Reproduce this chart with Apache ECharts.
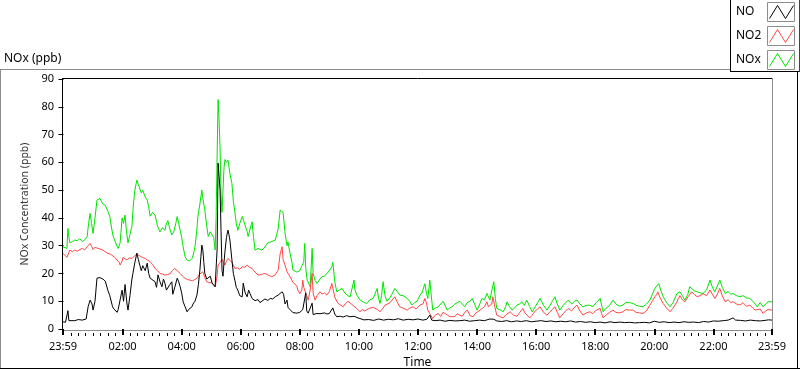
<!DOCTYPE html>
<html>
<head>
<meta charset="utf-8">
<script src="https://cdn.jsdelivr.net/npm/echarts@6/dist/echarts.min.js"></script>
<style>
html,body{margin:0;padding:0;background:#fff;}
#chart{width:800px;height:369px;}
</style>
</head>
<body>
<div id="chart"></div>
<script>
// x values are minutes after midnight; -1 is 23:59 of the previous day
const tickValues = [-1, 120, 240, 360, 480, 600, 720, 840, 960, 1080, 1200, 1320, 1439];
const tickLabels = ['23:59', '02:00', '04:00', '06:00', '08:00', '10:00', '12:00', '14:00', '16:00', '18:00', '20:00', '22:00', '23:59'];
const seriesNames = ['NO', 'NO2', 'NOx'];

const noTimes = [-1,4,7,9,11,13,23,30,38,46,50,54,58,60,64,68,74,80,85,88,90,94,99,101,105,109,111,115,119,122,125,129,131,135,139,141,145,149,152,155,158,161,166,170,173,176,180,186,189,192,196,200,203,206,209,212,216,220,222,226,231,234,237,240,243,247,251,254,257,261,263,267,271,274,277,279,281,283,285,287,291,294,298,302,305,308,310,312,314,316,318,320,322,324,326,328,331,334,336,338,342,345,348,351,354,358,363,365,369,373,376,379,383,389,395,399,403,409,415,420,425,430,436,440,444,447,450,454,456,460,464,466,470,474,476,480,484,486,492,494,497,501,505,507,511,515,521,525,530,535,540,547,551,555,562,568,575,582,590,592,598,602,610,620,630,640,650,660,670,680,690,700,710,720,730,738,744,748,755,765,775,785,795,805,815,825,835,845,855,866,870,874,880,890,900,910,920,930,940,950,960,970,980,990,1000,1010,1020,1030,1040,1050,1060,1070,1080,1090,1100,1110,1120,1130,1140,1150,1160,1170,1180,1190,1200,1210,1220,1230,1240,1250,1260,1270,1280,1290,1300,1310,1320,1330,1340,1350,1360,1365,1375,1385,1395,1405,1415,1425,1432,1436,1439];
const noValues = [2.6,2.4,2.8,6.6,3,3.2,3.0,3.4,3.2,3.6,8,10.4,9,6.8,10,18.3,18.5,18,17.2,16.5,14,12,8.5,7.5,6.8,6,7,6.5,14,10,16,9,6.8,12,18,20,24,27.3,25,24.8,21,22.8,21,23.7,20,18.3,19,17,15,19.5,17,15.2,18,16.5,14,14,16,17,12.5,15,18.3,17,15.2,13,9.8,8,6.2,7,6.8,8,9,10,12.2,16,21.2,26,30.2,28.5,24,20,18,17.6,19,16.5,17,15.2,22,28.5,59.7,55,50,35,21,19,24,28,33,35.6,34,32,25,20,17.6,15,14,12,11.6,16.5,13,11.6,14,12.7,11,10.2,10.6,9.5,9.8,10.8,10.3,11,10.8,11.6,12.2,12.8,13.4,12.5,9,10.4,7.8,7,6.8,5.9,5.4,5.7,5.8,6,6.6,7,13,6.5,5.7,6,9.3,5.2,5.4,5.6,5.5,5.2,5.8,5.4,5.6,7.6,5.4,4.4,4.6,4.3,4.8,4.4,4.6,5,4.0,3.5,3.3,3.4,3.1,3.6,3.2,3.5,3.3,3.7,3.2,3.5,3.3,3.6,3.2,3.5,5,3.2,3.0,3.2,2.8,3.1,2.9,3.0,3.2,2.8,3.0,3.2,3.0,3.6,4.2,3.5,2.9,2.7,3.0,2.6,2.9,2.7,3.0,2.6,2.8,3.0,2.7,2.9,2.6,2.8,2.6,2.9,2.5,2.7,2.4,2.6,2.3,2.5,2.2,2.6,2.3,2.5,2.3,2.4,2.2,2.3,2.4,2.2,2.8,2.4,2.6,2.3,2.5,2.3,2.6,2.4,2.5,2.3,2.7,2.5,2.9,2.8,3.0,3.2,4.0,3.2,3.1,2.9,3.2,3.0,2.9,3.1,3.3,3.6,3.2];

const no2Times = [-1,3,7,10,13,18,23,28,33,38,43,48,51,54,57,60,64,68,74,80,85,90,95,99,104,109,113,115,119,121,125,129,134,139,144,149,152,155,160,166,171,176,181,186,191,196,201,206,211,216,221,226,231,237,242,247,252,257,262,267,272,277,283,287,291,296,302,305,308,310,312,314,318,322,325,328,331,334,338,342,345,348,353,358,363,368,373,378,383,389,395,402,409,415,423,430,436,440,444,446,450,454,458,462,466,470,474,476,480,484,486,488,490,494,497,501,505,507,511,515,521,525,530,535,540,545,548,551,555,558,562,568,572,578,582,588,592,597,602,607,612,616,622,629,633,638,643,649,653,658,663,667,673,677,683,690,698,703,710,716,724,730,734,737,740,744,750,755,761,766,771,775,780,785,789,795,800,805,810,815,820,826,832,836,840,846,850,855,860,863,866,870,872,876,880,886,893,898,901,907,914,921,927,933,937,941,947,952,958,963,968,975,982,988,993,998,1003,1008,1015,1020,1025,1032,1038,1043,1049,1055,1062,1069,1075,1082,1090,1093,1096,1102,1109,1116,1122,1129,1136,1142,1150,1157,1163,1170,1177,1184,1191,1196,1201,1205,1207,1211,1218,1225,1232,1238,1246,1249,1252,1257,1262,1268,1276,1281,1287,1293,1299,1306,1313,1318,1323,1328,1333,1338,1344,1350,1355,1360,1367,1374,1380,1387,1394,1400,1405,1409,1415,1421,1426,1431,1435,1439];
const no2Values = [27.2,27.5,25.8,26.5,28.4,27.8,28.4,28,28.6,29,28.5,29.6,30,30.8,29.8,28.6,29.4,29,28.8,28.4,27.8,27.2,27,26.6,25.8,24.8,24,23,24.5,25.8,25.2,24.8,25.6,25.4,26.2,27,26.5,26.3,25.8,25.4,24.8,24.2,23.2,21.8,21,20,19.8,19.4,19.6,19.8,21,21.8,21,20,19,18.2,17.8,17.6,17.4,17.8,18.5,19.8,20.6,18.5,17,16.8,16.5,16,15.2,17,19,23,24,25,24,23,24.5,25.4,24.8,24,23,21.8,22,21.5,22.4,22.2,23,22.2,21.8,20.5,19.4,19.6,20,19.5,18.8,19.5,21.2,27,29.6,25,23,20.6,19.5,18.8,16.8,16.5,15.5,14,12.7,14,17.6,15,14,12,10.4,14,20,13,10.4,12,13.4,12.6,13,12.2,13.5,16.4,14,11.5,10,9.2,8.5,8,9,10,9.5,8.5,8,7.2,6.2,7,6.5,6.8,7.5,7.8,8,7,6.2,7.5,8.6,9,9.5,10,11.6,10,8,7.5,6.8,7.5,8,7.2,8.6,9,11,9.5,6.8,5.5,3.8,5,5.6,4.5,6,6.2,5,4.4,3.8,4.5,5.5,5,4.6,6,6.8,4.8,4.4,5.5,5.6,6.8,6.2,8,9.8,8,7.4,9,11.6,8,5,4.5,4,5,5.5,6.2,5,4.6,6,7.4,5.8,5.5,4,5,6.5,7.2,8,6,5,6.2,7,8,6,4,5.5,6.5,7.4,6.5,7.8,8.6,6.5,5,5.8,6.2,5.5,6.8,7.4,5.5,4,5,6,6.8,6,5.8,6.2,7,6.8,6.8,6,5.8,5.6,6.5,8.6,10,11.6,12.5,13.4,11.5,9.2,7.5,6.2,7.5,9.8,11,12,10.5,9.8,11.5,13.4,12.5,11.6,12,12.7,12,14,12.5,11,12.5,14.6,12,9.8,10.5,9.5,9.8,9,8.6,9.5,8.2,8.6,7.5,6.8,6.2,7.2,5.6,6.5,7,6.8,6.8];

const noxTimes = [-1,3,7,9,11,13,18,23,28,33,38,43,48,51,54,57,60,64,68,74,77,80,85,88,91,94,98,101,106,111,115,119,122,125,128,131,135,139,142,145,149,152,155,158,161,166,170,173,176,181,186,191,196,201,206,209,212,216,220,224,228,231,234,237,240,243,247,251,256,261,264,267,270,273,277,281,283,287,291,294,298,302,305,308,310,312,314,316,318,320,322,324,326,328,331,334,338,342,345,348,351,354,358,363,366,369,373,375,379,383,386,389,395,403,409,415,423,430,436,440,444,446,450,454,456,460,464,466,470,474,476,480,484,488,490,492,495,499,501,505,507,511,515,521,525,530,535,540,545,547,551,555,560,566,571,576,582,586,590,592,596,602,606,611,616,622,629,633,637,640,643,646,649,653,657,662,667,669,673,677,680,683,690,698,703,708,713,718,724,728,734,737,740,744,747,750,755,761,766,771,775,779,784,789,795,800,805,810,815,820,826,830,835,840,846,850,855,860,866,870,874,877,880,886,893,898,901,906,911,916,921,926,931,936,941,947,952,958,963,968,975,982,988,993,998,1003,1008,1015,1020,1025,1032,1038,1043,1049,1055,1062,1069,1075,1082,1090,1093,1096,1102,1109,1116,1122,1129,1136,1142,1150,1157,1163,1170,1177,1184,1191,1196,1201,1205,1209,1213,1218,1225,1232,1238,1246,1249,1252,1257,1262,1268,1272,1276,1281,1287,1293,1299,1306,1313,1318,1323,1328,1333,1338,1344,1350,1355,1360,1367,1374,1380,1387,1394,1400,1405,1409,1415,1421,1426,1431,1435,1439];
const noxValues = [29.6,30,29,36.2,33,31,31.5,32,31.8,32.5,31.5,32,33.3,38,41.6,38,34.4,40,46.4,47,46,45,44.5,44,42,40.5,36,33.3,31,29,31,40,38,41,35,31,34,37,45,50,53.6,52,51.4,49,50,47.5,46.5,44,40.6,42,41,37,35,36.5,35.5,38,39,36,33.9,35,38,40.5,38,35.5,33,29.6,26,24.8,24.5,25.4,27,29.6,34,40.5,45,50,47,42.9,37,33.3,35,35.5,33,28.4,40,62,82.6,75,65,48,42,50,58,61,60,60.8,56,52.5,46,42.2,38,35.5,38,40.5,39,38.6,35,33.3,36,38.6,33,28.4,29,28.4,29.5,31,31.5,32,36,42.8,43.5,42,34.5,30,31.3,27.3,24,21.2,21,20.5,20,21,20.5,24.2,30.8,22,17.6,16,15.2,29,20,17.5,16.4,18,18.8,19,20,21,22.4,24,17,13.4,14,14.6,13,12.2,11.5,11,17.6,14,12.2,10.5,10,9.5,9.2,10.5,11,11.5,14.6,11,9.2,12,17,12,10,11,12.5,13,14.6,14.6,13,12.2,12,11,10,8.6,9.5,10,12.2,13,16.3,13,11,17.6,12,6.8,7.5,8,9,10,8.5,6.8,7.5,8,9,9.5,10,9,8,9.5,10,11,9,6.8,9.2,11,10.5,12.8,10.4,14,17,11,7.4,7,6.2,8,9.8,8,6.8,7.5,8.6,9,9.8,8.5,10.4,8,6.2,8,9.5,11,8.5,6.8,8.5,10,11.6,9,6.8,8.5,9.5,10.4,9,10,10.4,9,8,8.5,8.6,8,9.5,11,8.5,6.2,7.5,8.5,10.4,9,8.2,8.6,9.5,9.5,9.2,8.5,8.2,8,9,10.4,12.5,14.6,15.5,16.4,14,11.6,9.5,8,9.5,12.8,13.5,13.4,12,10.4,12.5,15.2,14.5,13.8,13.4,13,12.8,14,17.6,15,13.4,15.5,17.6,15,12.8,13.5,12.5,12.8,12,11.6,12,11.2,11,10,9,8,9.5,8,9,9.8,9.5,9.8];

function pairs(t, v) { return t.map((x, i) => [x, v[i]]); }

const minorTicks = [];
for (let m = 15; m < 1440; m += 15) { if (m % 120 !== 0) minorTicks.push(m); }

const chart = echarts.init(document.getElementById('chart'), null, { renderer: 'canvas' });
const FONT = 'Noto Sans';
const gray = '#8c8c8c';

function legendItem(label, color, top) {
  return [
    { type: 'text', left: 736, top: top + 4, style: { text: label, font: '12px "Noto Sans"', fill: '#000' } },
    { type: 'rect', shape: { x: 767.5, y: top + 0.5, width: 27, height: 19 }, style: { fill: '#fff', stroke: gray, lineWidth: 1 } },
    { type: 'polyline', shape: { points: [[769.5, top + 16.5], [777.5, top + 3.5], [785.5, top + 16.5], [793.5, top + 3.5]] }, style: { stroke: color, lineWidth: 1, fill: null } }
  ];
}

const colors = ['#000000', '#ff4646', '#00e400'];

const option = {
  animation: false,
  backgroundColor: '#ffffff',
  textStyle: { fontFamily: FONT },
  grid: { left: 63, right: 28, top: 79, bottom: 40, containLabel: false, outerBoundsMode: 'none' },
  xAxis: [
    {
      type: 'value', min: -1, max: 1439,
      position: 'bottom', offset: 3,
      name: 'Time', nameLocation: 'middle', nameGap: 25,
      nameTextStyle: { fontFamily: FONT, fontSize: 12, color: '#000' },
      axisLine: { show: false },
      splitLine: { show: false },
      axisTick: { show: true, customValues: tickValues, length: 6, lineStyle: { color: '#000', width: 2 } },
      axisLabel: {
        customValues: tickValues, margin: 9, fontFamily: FONT, fontSize: 11, color: '#000',
        formatter: v => { const k = tickValues.indexOf(v); return k >= 0 ? tickLabels[k] : ''; }
      }
    },
    {
      type: 'value', min: -1, max: 1439,
      position: 'bottom', offset: 4,
      axisLine: { show: false },
      splitLine: { show: false },
      axisTick: { show: true, customValues: minorTicks, length: 3, lineStyle: { color: '#000', width: 1 } },
      axisLabel: { show: false }
    }
  ],
  yAxis: {
    type: 'value', min: 0, max: 90, interval: 10,
    name: 'NOx Concentration (ppb)', nameLocation: 'middle', nameGap: 22, nameRotate: 90,
    nameTextStyle: { fontFamily: FONT, fontSize: 10.5, color: '#333' },
    axisLine: { show: false },
    splitLine: { show: false },
    axisTick: { show: true, length: 5, lineStyle: { color: '#000' } },
    axisLabel: { margin: 9, fontFamily: FONT, fontSize: 11, color: '#000' }
  },
  graphic: [
    // outer frame
    { type: 'line', shape: { x1: 0, y1: 69.5, x2: 730, y2: 69.5 }, style: { stroke: gray, lineWidth: 1 } },
    { type: 'line', shape: { x1: 0.5, y1: 69, x2: 0.5, y2: 369 }, style: { stroke: gray, lineWidth: 1 } },
    { type: 'line', shape: { x1: 0, y1: 368.5, x2: 800, y2: 368.5 }, style: { stroke: '#000', lineWidth: 1 } },
    { type: 'line', shape: { x1: 797.5, y1: 72, x2: 797.5, y2: 369 }, style: { stroke: '#000', lineWidth: 1 } },
    // legend box
    { type: 'rect', shape: { x: 730.5, y: -0.5, width: 68, height: 72 }, style: { fill: '#fff', stroke: null } },
    { type: 'line', shape: { x1: 730.5, y1: 0, x2: 730.5, y2: 72 }, style: { stroke: '#000', lineWidth: 1 } },
    { type: 'line', shape: { x1: 730, y1: 71.5, x2: 800, y2: 71.5 }, style: { stroke: '#000', lineWidth: 1 } },
    { type: 'line', shape: { x1: 799.5, y1: 0, x2: 799.5, y2: 72 }, style: { stroke: '#444', lineWidth: 1 } },
    ...legendItem(seriesNames[0], colors[0], 2),
    ...legendItem(seriesNames[1], colors[1], 26),
    ...legendItem(seriesNames[2], colors[2], 50),
    // title
    { type: 'text', left: 4, top: 53, style: { text: 'NOx (ppb)', font: '12px "Noto Sans"', fill: '#000' } },
    // plot frame
    { type: 'line', shape: { x1: 62, y1: 78.5, x2: 773, y2: 78.5 }, style: { stroke: '#000', lineWidth: 1 } },
    { type: 'line', shape: { x1: 62.5, y1: 78, x2: 62.5, y2: 331 }, style: { stroke: '#000', lineWidth: 1 } },
    { type: 'line', shape: { x1: 772.5, y1: 78, x2: 772.5, y2: 331 }, style: { stroke: gray, lineWidth: 1 } },
    { type: 'line', shape: { x1: 63, y1: 330.5, x2: 773, y2: 330.5 }, style: { stroke: gray, lineWidth: 1 } }
  ],
  series: [
    { name: seriesNames[2], type: 'line', data: pairs(noxTimes, noxValues), showSymbol: false, lineStyle: { color: colors[2], width: 1 }, itemStyle: { color: colors[2] }, z: 2 },
    { name: seriesNames[1], type: 'line', data: pairs(no2Times, no2Values), showSymbol: false, lineStyle: { color: colors[1], width: 1 }, itemStyle: { color: colors[1] }, z: 3 },
    { name: seriesNames[0], type: 'line', data: pairs(noTimes, noValues), showSymbol: false, lineStyle: { color: colors[0], width: 1 }, itemStyle: { color: colors[0] }, z: 4 }
  ]
};
chart.setOption(option);
</script>
</body>
</html>
